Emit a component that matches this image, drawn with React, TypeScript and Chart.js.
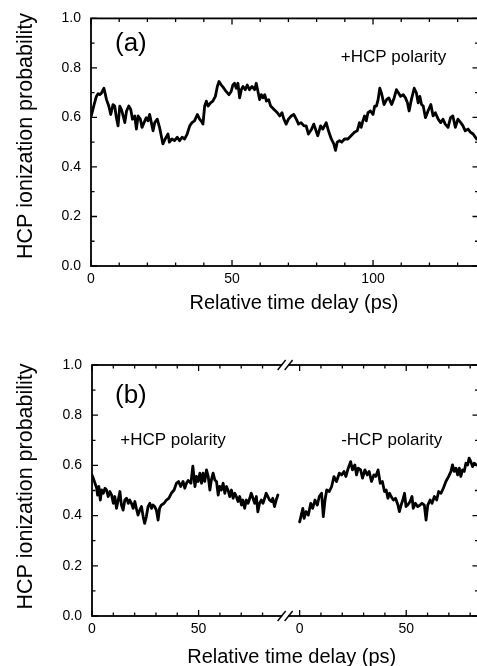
import React, { useEffect, useRef } from 'react';
import { Chart, registerables } from 'chart.js';

Chart.register(...registerables);

const FONT = "'Liberation Sans', Arial, Helvetica, sans-serif";

// ---------- Panel (a): +HCP polarity ----------
const A_TIME = [
  0.1, 1.1, 1.9, 2.5, 3.1, 3.7, 4.6, 5.5, 6.3, 7.0,
  7.8, 8.4, 9.0, 9.6, 10.2, 10.8, 11.4, 12.0, 12.6, 13.4,
  14.1, 14.7, 15.5, 16.1, 16.7, 17.5, 18.1, 18.8, 19.6, 20.2,
  20.8, 21.4, 22.0, 22.6, 23.5, 24.3, 25.5, 26.3, 27.3, 27.8,
  28.7, 29.6, 30.6, 31.4, 32.3, 33.2, 34.1, 35.0, 35.8, 36.7,
  37.7, 38.5, 39.1, 39.7, 40.3, 40.9, 41.5, 42.4, 43.2, 44.1,
  44.8, 45.4, 46.2, 47.1, 47.9, 48.9, 49.7, 50.3, 50.9, 51.5,
  52.1, 52.7, 53.3, 53.9, 54.7, 55.4, 56.2, 57.1, 58.0, 58.6,
  59.2, 59.8, 60.4, 61.0, 61.6, 62.2, 63.0, 63.7, 64.9, 66.1,
  66.9, 67.7, 68.4, 69.2, 70.0, 71.0, 71.9, 72.8, 73.6, 74.5,
  75.5, 76.3, 77.1, 78.1, 79.0, 79.8, 80.4, 81.4, 82.2, 83.4,
  84.2, 85.2, 86.1, 86.7, 87.3, 88.1, 88.9, 89.9, 91.1, 92.2,
  93.4, 94.4, 95.2, 95.8, 96.4, 97.0, 97.6, 98.2, 99.1, 100.0,
  100.6, 101.2, 101.8, 102.4, 103.0, 103.9, 104.8, 105.6, 106.6, 107.5,
  108.3, 109.1, 109.8, 110.7, 111.5, 112.2, 112.8, 113.6, 114.6, 115.4,
  116.0, 116.6, 117.2, 117.8, 118.6, 119.5, 120.5, 121.3, 122.1, 123.1,
  124.0, 124.8, 125.6, 126.6, 127.5, 128.3, 129.2, 130.1, 131.1, 131.9,
  132.7, 133.7, 134.6, 135.5, 136.7, 137.4,
];
const A_PROB = [
  0.606, 0.652, 0.685, 0.696, 0.692, 0.698, 0.718, 0.672, 0.646, 0.612,
  0.652, 0.646, 0.599, 0.566, 0.646, 0.632, 0.606, 0.579, 0.626, 0.646,
  0.632, 0.593, 0.606, 0.553, 0.606, 0.593, 0.560, 0.579, 0.599, 0.586,
  0.612, 0.579, 0.546, 0.579, 0.593, 0.560, 0.493, 0.513, 0.533, 0.500,
  0.513, 0.506, 0.520, 0.506, 0.520, 0.513, 0.533, 0.566, 0.579, 0.586,
  0.612, 0.593, 0.585, 0.573, 0.646, 0.666, 0.646, 0.659, 0.666, 0.685,
  0.725, 0.745, 0.731, 0.718, 0.705, 0.692, 0.705, 0.731, 0.738, 0.718,
  0.738, 0.679, 0.712, 0.725, 0.712, 0.731, 0.712, 0.725, 0.712, 0.738,
  0.705, 0.672, 0.692, 0.679, 0.692, 0.666, 0.672, 0.646, 0.632, 0.619,
  0.606, 0.619, 0.593, 0.573, 0.593, 0.606, 0.612, 0.593, 0.573, 0.579,
  0.566, 0.566, 0.533, 0.550, 0.573, 0.546, 0.526, 0.566, 0.553, 0.579,
  0.546, 0.513, 0.493, 0.467, 0.500, 0.506, 0.500, 0.513, 0.513, 0.526,
  0.540, 0.546, 0.579, 0.560, 0.586, 0.606, 0.586, 0.619, 0.626, 0.612,
  0.646, 0.646, 0.672, 0.718, 0.698, 0.652, 0.672, 0.679, 0.652, 0.679,
  0.712, 0.698, 0.685, 0.692, 0.679, 0.659, 0.626, 0.672, 0.718, 0.698,
  0.659, 0.685, 0.652, 0.646, 0.599, 0.626, 0.652, 0.606, 0.619, 0.593,
  0.579, 0.593, 0.573, 0.560, 0.599, 0.606, 0.560, 0.593, 0.579, 0.566,
  0.546, 0.553, 0.540, 0.533, 0.513, 0.510,
];

// ---------- Panel (b), left segment: +HCP polarity ----------
const B_PLUS_TIME = [
  0.0, 0.6, 1.4, 2.2, 2.6, 3.2, 3.9, 4.5, 5.3, 6.1,
  6.8, 7.6, 8.4, 9.2, 10.0, 10.7, 11.5, 12.3, 13.1, 13.8,
  14.6, 15.4, 16.2, 17.0, 17.7, 18.5, 19.3, 20.1, 20.8, 21.6,
  22.4, 23.2, 24.0, 24.7, 25.5, 26.3, 27.1, 27.9, 28.6, 29.4,
  30.2, 31.0, 31.7, 32.5, 33.8, 34.9, 36.0, 37.2, 38.5, 39.6,
  40.6, 41.6, 42.7, 43.5, 44.3, 45.1, 46.4, 47.3, 48.3, 49.0,
  49.8, 50.6, 51.4, 52.1, 52.9, 53.7, 54.5, 55.3, 56.0, 56.8,
  57.6, 58.4, 59.2, 59.9, 60.7, 61.5, 62.3, 63.1, 63.8, 64.6,
  65.4, 66.2, 67.0, 67.7, 68.5, 69.3, 70.1, 70.8, 71.6, 72.4,
  73.2, 74.0, 74.7, 75.5, 76.3, 77.1, 77.8, 78.6, 79.4, 80.2,
  81.0, 81.7, 82.5, 83.3, 84.1, 84.8, 85.6, 86.4, 87.2,
];
const B_PLUS_PROB = [
  0.562, 0.549, 0.529, 0.509, 0.482, 0.516, 0.462, 0.502, 0.489, 0.509,
  0.502, 0.476, 0.496, 0.482, 0.449, 0.476, 0.429, 0.462, 0.496, 0.442,
  0.422, 0.462, 0.469, 0.449, 0.462, 0.449, 0.429, 0.456, 0.429, 0.402,
  0.422, 0.436, 0.396, 0.369, 0.396, 0.436, 0.449, 0.429, 0.442, 0.436,
  0.422, 0.382, 0.429, 0.442, 0.449, 0.462, 0.469, 0.489, 0.502, 0.529,
  0.536, 0.516, 0.536, 0.509, 0.529, 0.540, 0.529, 0.597, 0.516, 0.556,
  0.536, 0.569, 0.529, 0.569, 0.536, 0.582, 0.556, 0.502, 0.542, 0.569,
  0.542, 0.536, 0.482, 0.516, 0.502, 0.529, 0.489, 0.516, 0.502, 0.476,
  0.502, 0.469, 0.489, 0.476, 0.456, 0.476, 0.442, 0.462, 0.429, 0.462,
  0.449, 0.469, 0.489, 0.469, 0.449, 0.476, 0.415, 0.449, 0.462, 0.449,
  0.469, 0.489, 0.476, 0.462, 0.456, 0.469, 0.436, 0.462, 0.482,
];

// ---------- Panel (b), right segment: -HCP polarity ----------
const B_MINUS_TIME = [
  0.0, 0.6, 1.5, 2.1, 3.0, 4.1, 5.2, 6.1, 7.2, 8.3,
  9.2, 10.3, 11.1, 11.9, 12.7, 13.9, 15.0, 16.1, 17.3, 18.6,
  19.7, 20.8, 21.7, 22.8, 23.9, 24.8, 25.9, 26.7, 27.5, 28.6,
  29.5, 30.6, 31.7, 32.6, 33.7, 34.8, 35.7, 36.8, 37.8, 38.8,
  39.8, 40.6, 41.4, 42.2, 42.9, 44.0, 45.0, 46.1, 46.8, 47.6,
  48.4, 49.2, 49.9, 50.7, 51.8, 52.7, 53.3, 54.3, 55.4, 56.5,
  57.4, 58.5, 59.3, 60.1, 61.2, 62.1, 63.2, 64.3, 65.2, 66.3,
  67.4, 68.6, 69.9, 71.0, 71.7, 72.5, 73.3, 74.1, 74.9, 75.6,
  76.4, 77.2, 78.0, 78.8, 79.5, 80.3, 81.1, 81.9, 82.8, 84.0,
];
const B_MINUS_PROB = [
  0.375, 0.396, 0.429, 0.389, 0.416, 0.402, 0.449, 0.429, 0.462, 0.442,
  0.476, 0.489, 0.396, 0.462, 0.502, 0.496, 0.516, 0.555, 0.536, 0.569,
  0.562, 0.576, 0.556, 0.589, 0.615, 0.582, 0.602, 0.562, 0.589, 0.582,
  0.549, 0.582, 0.562, 0.576, 0.536, 0.562, 0.556, 0.582, 0.529, 0.536,
  0.496, 0.502, 0.469, 0.489, 0.476, 0.462, 0.469, 0.442, 0.416, 0.442,
  0.462, 0.489, 0.436, 0.442, 0.456, 0.476, 0.429, 0.449, 0.436, 0.442,
  0.449, 0.442, 0.382, 0.442, 0.462, 0.449, 0.476, 0.462, 0.496, 0.489,
  0.509, 0.536, 0.556, 0.576, 0.602, 0.576, 0.589, 0.562, 0.589, 0.556,
  0.582, 0.576, 0.609, 0.602, 0.629, 0.615, 0.595, 0.609, 0.602, 0.600,
];

// ---------- Axes / ticks ----------
const Y_TICKS = [0, 0.2, 0.4, 0.6, 0.8, 1.0];
const Y_MINOR = [0.1, 0.3, 0.5, 0.7, 0.9];
const A_X_TICKS = [0, 50, 100];
const A_X_MINOR = [10, 20, 30, 40, 60, 70, 80, 90, 110, 120, 130];
const B_X_TICKS = [0, 50];
const B_X_MINOR = [10, 20, 30, 40, 60, 70, 80];
const A_X_MAX = 137.4;
const B_X_MAX = 181.3;
const B_OFFSET = 97.4; // where the right segment's 0 sits on the shared axis
const B_BREAK = 90.6;

const Y_TITLE = 'HCP ionization probability';
const X_TITLE = 'Relative time delay (ps)';

type Note = { text: string; x: number; y: number; size: number; align: CanvasTextAlign };

function framePlugin(opts: {
  xMajor: number[];
  xMinor: number[];
  breakAt?: number;
  notes: Note[];
  yTitleY: number;
  xTitleX: number;
  xTitleY: number;
}) {
  return {
    id: 'frame',
    afterDraw(chart: any) {
      const { ctx, chartArea } = chart;
      const { left, right, top, bottom } = chartArea;
      const xs = chart.scales.x;
      const ys = chart.scales.y;
      ctx.save();
      ctx.strokeStyle = '#000';
      ctx.fillStyle = '#000';
      ctx.lineWidth = 1.8;
      ctx.lineCap = 'butt';
      ctx.strokeRect(left, top, right - left, bottom - top);

      ctx.lineWidth = 1.3;
      const yTick = (v: number, len: number) => {
        const py = ys.getPixelForValue(v);
        ctx.beginPath();
        ctx.moveTo(left, py);
        ctx.lineTo(left + len, py);
        ctx.moveTo(right, py);
        ctx.lineTo(right - len, py);
        ctx.stroke();
      };
      Y_TICKS.forEach((v) => yTick(v, 6));
      Y_MINOR.forEach((v) => yTick(v, 3.5));
      const xTick = (v: number, len: number) => {
        const px = xs.getPixelForValue(v);
        ctx.beginPath();
        ctx.moveTo(px, bottom);
        ctx.lineTo(px, bottom - len);
        ctx.moveTo(px, top);
        ctx.lineTo(px, top + len);
        ctx.stroke();
      };
      opts.xMajor.forEach((v) => xTick(v, 6));
      opts.xMinor.forEach((v) => xTick(v, 3.5));

      if (opts.breakAt !== undefined) {
        const bx = xs.getPixelForValue(opts.breakAt);
        [top, bottom].forEach((by) => {
          ctx.fillStyle = '#fff';
          ctx.fillRect(bx - 3, by - 2, 6, 4);
          ctx.strokeStyle = '#000';
          ctx.lineWidth = 1.4;
          [bx - 3.5, bx + 3.5].forEach((cx) => {
            ctx.beginPath();
            ctx.moveTo(cx - 4, by + 5);
            ctx.lineTo(cx + 4, by - 5);
            ctx.stroke();
          });
        });
        ctx.fillStyle = '#000';
      }

      ctx.fillStyle = '#000';
      ctx.textBaseline = 'alphabetic';
      opts.notes.forEach((n) => {
        ctx.font = `${n.size}px ${FONT}`;
        ctx.textAlign = n.align;
        ctx.fillText(n.text, n.x, n.y);
      });

      ctx.font = `20px ${FONT}`;
      ctx.textAlign = 'center';
      ctx.fillText(X_TITLE, opts.xTitleX, opts.xTitleY);

      ctx.save();
      ctx.translate(26.5, opts.yTitleY);
      ctx.rotate(-Math.PI / 2);
      ctx.font = `21.5px ${FONT}`;
      ctx.textAlign = 'center';
      ctx.textBaseline = 'middle';
      ctx.fillText(Y_TITLE, 0, 0);
      ctx.restore();

      ctx.restore();
    },
  };
}

function lineDataset(xs: number[], ys: number[], shift = 0) {
  return {
    data: xs.map((t, i) => ({ x: t + shift, y: ys[i] })),
    borderColor: '#000',
    borderWidth: 2.8,
    pointRadius: 0,
    tension: 0,
    fill: false,
    borderJoinStyle: 'round' as const,
    borderCapStyle: 'round' as const,
  };
}

function buildConfig(panel: 'a' | 'b'): any {
  const isA = panel === 'a';
  const datasets = isA
    ? [lineDataset(A_TIME, A_PROB)]
    : [lineDataset(B_PLUS_TIME, B_PLUS_PROB), lineDataset(B_MINUS_TIME, B_MINUS_PROB, B_OFFSET)];
  const xMajor = isA ? A_X_TICKS : [...B_X_TICKS, ...B_X_TICKS.map((v) => v + B_OFFSET)];
  const xMinor = isA ? A_X_MINOR : [...B_X_MINOR, ...B_X_MINOR.map((v) => v + B_OFFSET)];
  const notes: Note[] = isA
    ? [
        { text: '(a)', x: 115, y: 51, size: 26, align: 'left' },
        { text: '+HCP polarity', x: 393.5, y: 61.5, size: 17, align: 'center' },
      ]
    : [
        { text: '(b)', x: 115, y: 70, size: 26, align: 'left' },
        { text: '+HCP polarity', x: 173, y: 111.5, size: 17, align: 'center' },
        { text: '-HCP polarity', x: 391.7, y: 111.5, size: 17, align: 'center' },
      ];
  return {
    type: 'line',
    data: { datasets },
    options: {
      responsive: false,
      animation: false,
      events: [],
      layout: { padding: { top: isA ? 14 : 32, left: 0, right: 1.5, bottom: 0 } },
      plugins: { legend: { display: false }, tooltip: { enabled: false } },
      scales: {
        x: {
          type: 'linear',
          min: 0,
          max: isA ? A_X_MAX : B_X_MAX,
          afterFit: (s: any) => {
            s.height = isA ? 67 : 50;
          },
          afterBuildTicks: (s: any) => {
            s.ticks = xMajor.map((v) => ({ value: v }));
          },
          ticks: {
            autoSkip: false,
            maxRotation: 0,
            padding: 5,
            color: '#000',
            font: { family: FONT, size: 14 },
            callback: (v: number) => String(Math.round(!isA && v >= B_OFFSET - 1 ? v - B_OFFSET : v)),
          },
          grid: { display: false, drawTicks: false, tickLength: 0 },
          border: { display: false },
        },
        y: {
          type: 'linear',
          min: 0,
          max: 1,
          afterFit: (s: any) => {
            s.width = isA ? 91 : 92;
          },
          afterBuildTicks: (s: any) => {
            s.ticks = Y_TICKS.map((v) => ({ value: v }));
          },
          ticks: {
            padding: 10,
            color: '#000',
            font: { family: FONT, size: 14 },
            callback: (v: number) => v.toFixed(1),
          },
          grid: { display: false, drawTicks: false, tickLength: 0 },
          border: { display: false },
        },
      },
    },
    plugins: [
      framePlugin({
        xMajor,
        xMinor,
        breakAt: isA ? undefined : B_BREAK,
        notes,
        yTitleY: isA ? 136 : 153.5,
        xTitleX: isA ? 294 : 291.7,
        xTitleY: isA ? 308.5 : 329.5,
      }),
    ],
  };
}

function Panel({ panel, top }: { panel: 'a' | 'b'; top: number }) {
  const ref = useRef<HTMLCanvasElement>(null);
  useEffect(() => {
    const chart = new Chart(ref.current as HTMLCanvasElement, buildConfig(panel));
    return () => chart.destroy();
  }, [panel]);
  return (
    <canvas
      ref={ref}
      width={480}
      height={333}
      style={{ position: 'absolute', left: 0, top, width: 480, height: 333, display: 'block' }}
    />
  );
}

export default function App() {
  return (
    <div
      style={{
        position: 'absolute',
        left: 0,
        top: 0,
        width: 477,
        height: 666,
        overflow: 'hidden',
        background: '#fff',
      }}
    >
      <Panel panel="a" top={0} />
      <Panel panel="b" top={333} />
    </div>
  );
}
